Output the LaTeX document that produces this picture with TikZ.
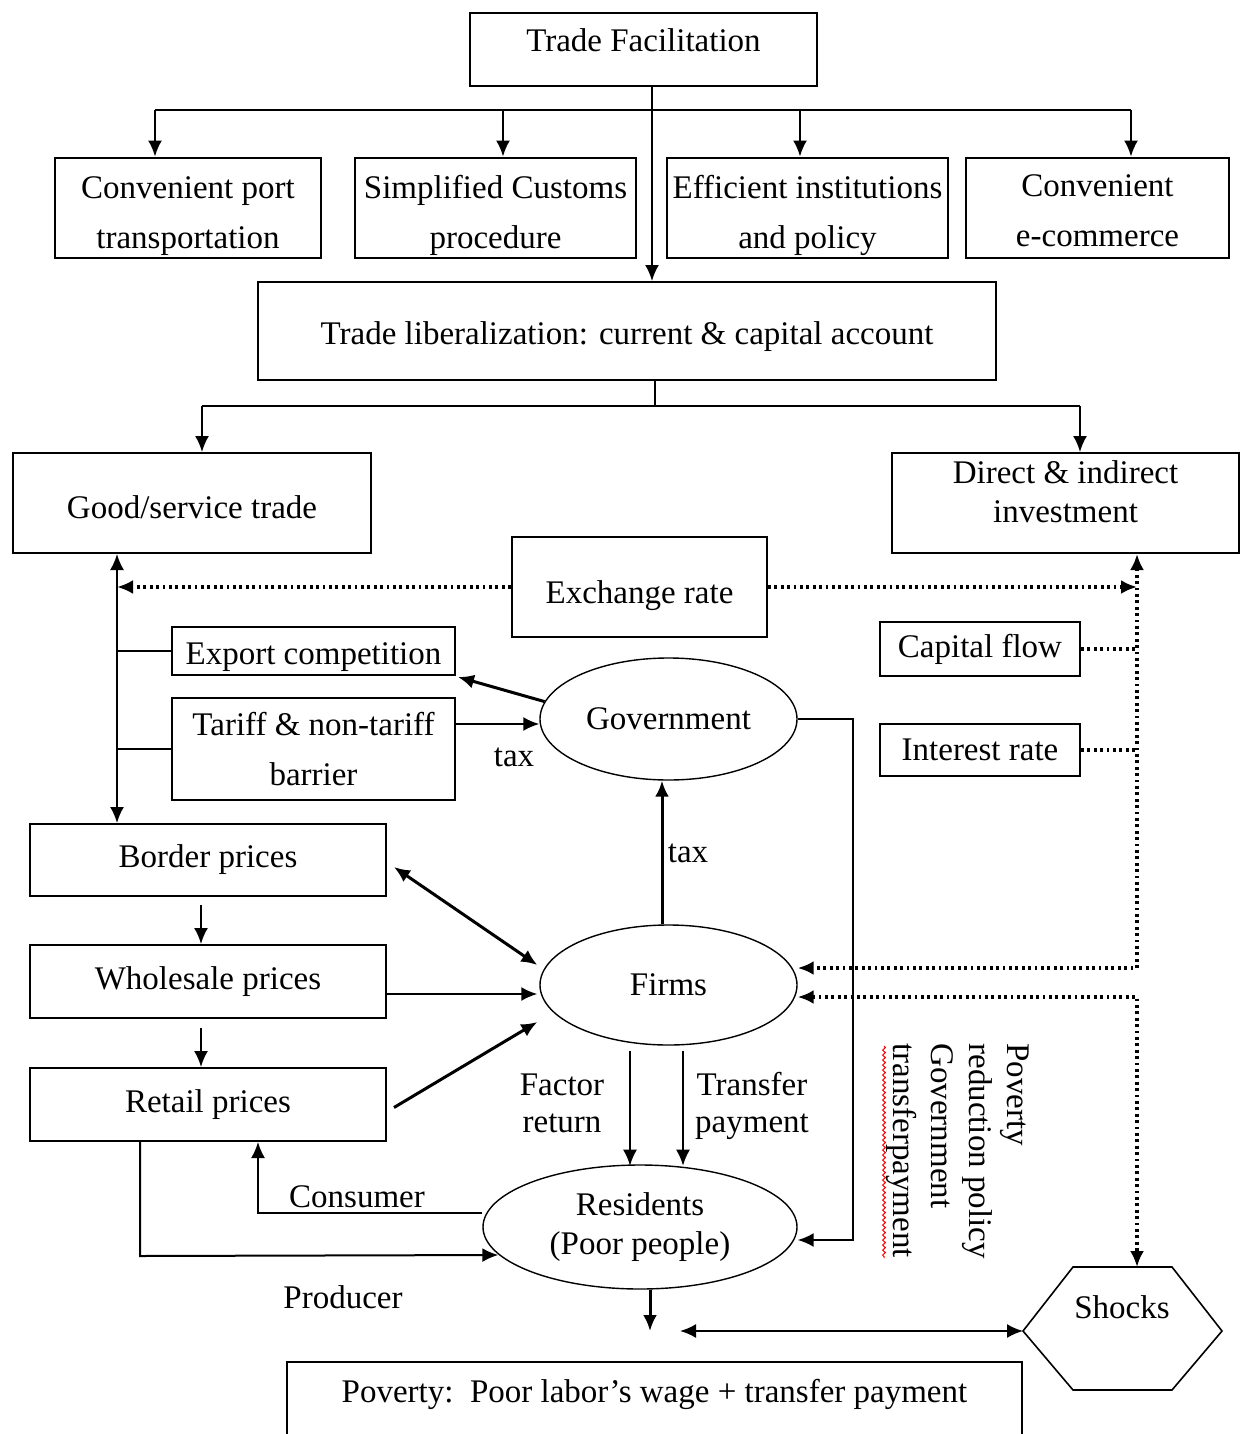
\documentclass[tikz,border=0pt]{standalone}
\usepackage{fontspec}
\setmainfont{Liberation Serif}
\usetikzlibrary{arrows.meta,shapes.geometric,decorations.pathmorphing}
\newcommand\mvtext[2]{\raisebox{#1}[\height][\depth]{#2}}
\begin{document}
\begin{tikzpicture}[x=0.5pt,y=-0.5pt,
  font=\fontsize{16.5}{19.5}\selectfont,
  >={Latex[length=8pt,width=7pt]},
  box/.style={draw, line width=1pt, inner sep=0pt, align=center},
  sz/.style 2 args={minimum width=#1*0.5pt, minimum height=#2*0.5pt},
  ell/.style={draw, ellipse, line width=0.7pt, inner sep=0pt, align=center},
  wide/.style={font=\fontsize{16.5}{25}\selectfont},
  ln/.style={line width=1pt},
  thk/.style={line width=1.5pt},
  dt/.style={line width=1.6pt, dash pattern=on 1.4pt off 1.8pt},
  lbl/.style={inner sep=0pt, align=center}
]
\useasboundingbox (0,0) rectangle (1240,1434);

% ---------- boxes ----------
\node[box, sz={347}{73}] (tf) at (643.5,49.5) {\mvtext{4.7pt}{Trade Facilitation}};
\node[box, wide, sz={266}{99}] (cp) at (188,207.5) {\mvtext{-3pt}{\begin{tabular}{@{}c@{}}Convenient port\\transportation\end{tabular}}};
\node[box, wide, sz={281}{99}] (ss) at (495.5,207.5) {\mvtext{-3pt}{\begin{tabular}{@{}c@{}}Simplified Customs\\procedure\end{tabular}}};
\node[box, wide, sz={281}{99}] (ei) at (807.5,207.5) {\mvtext{-3pt}{\begin{tabular}{@{}c@{}}Efficient institutions\\and policy\end{tabular}}};
\node[box, wide, sz={263}{99}] (ce) at (1097.5,207.5) {\mvtext{-2pt}{\begin{tabular}{@{}c@{}}Convenient\\e-commerce\end{tabular}}};
\node[box, sz={738}{98}] (tl) at (627,331) {\mvtext{-3pt}{Trade liberalization: current \& capital account}};
\node[box, sz={358}{100}] (gs) at (192,503) {\mvtext{-2pt}{Good/service trade}};
\node[box, sz={347}{100}] (di) at (1065.5,503) {\mvtext{4pt}{\begin{tabular}{@{}c@{}}Direct \& indirect\\investment\end{tabular}}};
\node[box, sz={255}{100}] (er) at (639.5,587) {\mvtext{-4.5pt}{Exchange rate}};
\node[box, sz={283}{48}] (ec) at (313.5,651) {\mvtext{-3pt}{Export competition}};
\node[box, wide, sz={283}{102}] (tn) at (313.5,749) {Tariff \& non-tariff\\barrier};
\node[box, sz={200}{54}] (cf) at (980,649) {Capital flow};
\node[box, sz={200}{52}] (ir) at (980,750) {Interest rate};
\node[box, sz={356}{72}] (bp) at (208,860) {Border prices};
\node[box, sz={356}{73}] (wp) at (208,981.5) {Wholesale prices};
\node[box, sz={356}{73}] (rp) at (208,1104.5) {Retail prices};
\node[box, sz={735}{98}] (pv) at (654.5,1411) {\mvtext{8.5pt}{Poverty:\ \ Poor labor's wage + transfer payment}};

% ---------- ellipses ----------
\node[ell, sz={257}{122}] (gov) at (668.5,719) {Government};
\node[ell, sz={257}{120}] (firm) at (668.5,985) {Firms};
\node[ell, sz={314}{124}] (res) at (640,1227) {Residents\\(Poor people)};

% ---------- hexagon ----------
\coordinate (shL) at (1023,1331);
\coordinate (shT) at (1137,1267);
\draw[line width=0.8pt] (shL) -- (1073,1267) -- (1172,1267) -- (1222,1331) -- (1172,1390) -- (1073,1390) -- cycle;
\node[lbl] (sht) at (1122,1307) {Shocks};

% ---------- helper coordinates ----------
\coordinate (b1) at (155,110);
\coordinate (b2) at (503,110);
\coordinate (b3) at (800,110);
\coordinate (b4) at (1131,110);
\coordinate (c1) at (202,406);
\coordinate (c2) at (1080,406);
\coordinate (lvx) at (117,0);
\coordinate (rvx) at (1137,0);
\coordinate (gx) at (853,0);
\coordinate (da) at (680,1331);

% ---------- top tree ----------
\draw[ln] (b1) -- (b4);
\foreach \b/\n in {b1/cp,b2/ss,b3/ei,b4/ce}
  \draw[ln,->] (\b) -- (\b |- \n.north);
\draw[ln,->] ([xshift=4.25pt]tf.south) -- ([xshift=4.25pt]tf.south |- tl.north);
\draw[ln] ([xshift=14pt]tl.south) -- ([xshift=14pt]tl.south |- c1);
\draw[ln] (c1) -- (c2);
\draw[ln,->] (c1) -- (c1 |- gs.north);
\draw[ln,->] (c2) -- (c2 |- di.north);

% ---------- left column ----------
\draw[ln,<->] (gs.south -| lvx) -- (bp.north -| lvx);
\draw[ln] (ec.west) -- (ec.west -| lvx);
\draw[ln] (tn.west) -- (tn.west -| lvx);
\draw[dt,->] (er.west) -- (er.west -| lvx);
\draw[dt,->] (er.east) -- (er.east -| rvx);

% ---------- government ----------
\draw[thk,->] (gov.172) -- ([shift={(1pt,-0.5pt)}]ec.south east);
\draw[ln,->] ([yshift=12.5pt]tn.east) -- ([yshift=12.5pt]tn.east -| gov.west);
\node[lbl] (tax1) at (514,757) {tax};
\draw[thk,->] ([xshift=-3.25pt]firm.north) -- ([xshift=-3.25pt]gov.south);
\node[lbl] (tax2) at (688,853) {tax};

% ---------- prices ----------
\draw[ln,->] ([shift={(-3.5pt,-4pt)}]bp.south) -- ([xshift=-3.5pt]wp.north);
\draw[ln,->] ([shift={(-3.5pt,-4.5pt)}]wp.south) -- ([xshift=-3.5pt]rp.north);
\draw[thk,<->] ([shift={(3.5pt,-3.5pt)}]bp.east) -- ([shift={(-1pt,10pt)}]firm.west);
\draw[ln,->] ([yshift=-6.25pt]wp.east) -- ([shift={(-1pt,-4.5pt)}]firm.west);
\draw[thk,->] ([shift={(3.5pt,-1.5pt)}]rp.east) -- ([shift={(-1pt,-18.5pt)}]firm.west);

% ---------- firms to residents ----------
\draw[ln,->] ([shift={(-19.25pt,-2.5pt)}]firm.south) -- ++(0,115);
\draw[ln,->] ([shift={(7.25pt,-2.5pt)}]firm.south) -- ++(0,115);
\node[lbl, font=\fontsize{16.5}{18.5}\selectfont] (fr) at (562,1103) {Factor\\return};
\node[lbl, font=\fontsize{16.5}{18.5}\selectfont] (tp) at (752,1106) {Transfer\\payment};

% ---------- government to residents ----------
\coordinate (rese) at ([yshift=-6.5pt]res.east);
\draw[ln,->] (gov.east) -- (gov.east -| gx) -- (gx |- rese) -- (rese);

% ---------- consumer / producer ----------
\draw[ln,->] ([yshift=7pt]res.west) -- ([yshift=7pt]res.west -| 258,0) -- ([xshift=25pt]rp.south);
\node[lbl] (cons) at (357,1197) {Consumer};
\draw[ln,->] ([xshift=-34pt]rp.south) -- ++(0,114) -- ([shift={(8pt,-14pt)}]res.west);
\node[lbl] (prod) at (343,1297) {Producer};

% ---------- residents, shocks, poverty ----------
\draw[thk,->] ([xshift=5pt]res.south) -- ([xshift=5pt]res.south |- da);
\draw[ln,<->] (da) -- (shL);

% ---------- right dotted column ----------
\draw[dt] (cf.east) -- (cf.east -| rvx);
\draw[dt] (ir.east) -- (ir.east -| rvx);
\draw[dt,<->] (di.south -| rvx) -- ([yshift=8.5pt]firm.east -| rvx) -- ([yshift=8.5pt]firm.east);
\draw[dt,<->] ([yshift=-6pt]firm.east) -- ([yshift=-6pt]firm.east -| rvx) -- (shT);

% ---------- vertical policy text ----------
\node[rotate=-90, anchor=north west, inner sep=0pt, align=left,
      font=\fontsize{16.5}{19}\selectfont] (pol) at (1029,1043)
  {Poverty\\reduction policy\\Government\\transferpayment};
\draw[red, line width=0.5pt, decorate, decoration={snake, amplitude=0.7pt, segment length=2.5pt}]
  (884,1046) -- (884,1258);
\end{tikzpicture}
\end{document}
